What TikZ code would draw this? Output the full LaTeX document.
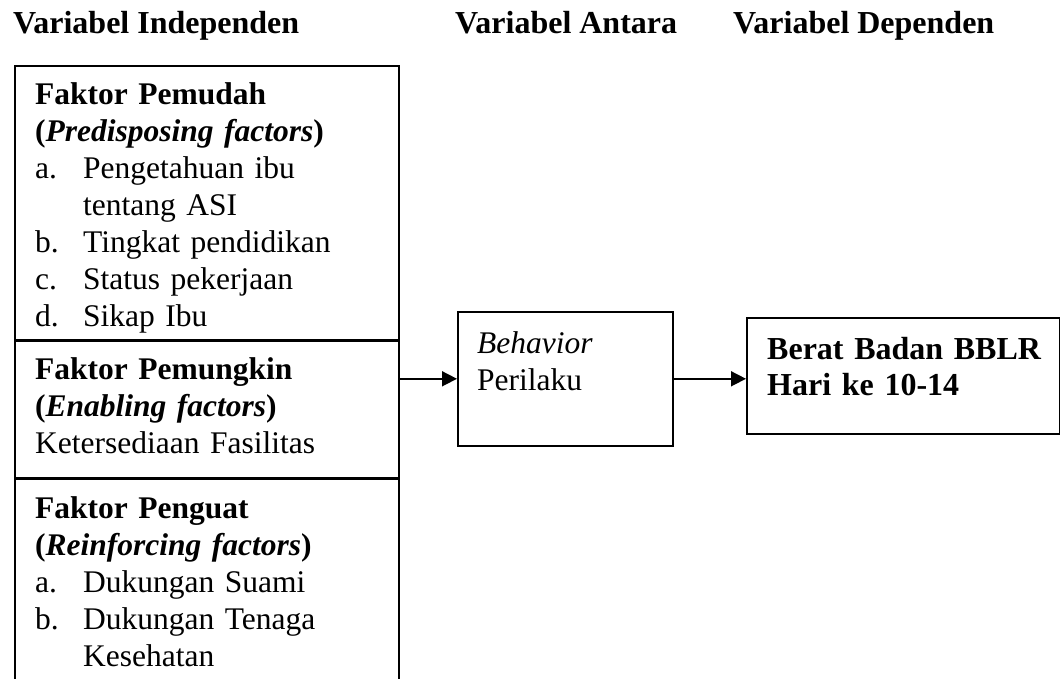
\documentclass[tikz,border=0pt]{standalone}
\usepackage{fontspec}
\setmainfont{Liberation Serif}
\usetikzlibrary{arrows.meta}
\newcommand{\itm}[2]{\makebox[48pt][l]{#1}#2}

\begin{document}
\begin{tikzpicture}[x=1pt,y=-1pt,
        box/.style={draw,line width=1.6pt,anchor=north west,inner sep=0pt},
        txt/.style={anchor=base west,inner sep=0pt,align=left,font=\fontsize{31.5}{37}\selectfont},
        head/.style={txt,font=\fontsize{32}{37}\selectfont\bfseries},
        arr/.style={line width=1.6pt,-{Triangle[length=15pt,width=15pt]}}]
        \clip (0,0) rectangle (1060,679);
        % headings
        \node[head] (hindep) at (13,34) {Variabel Independen};
        \node[head] (hantara) at (455,34) {Variabel Antara};
        \node[head] (hdep) at (733,34) {Variabel Dependen};
        % left column
        \node[box,minimum width=384pt,minimum height=274pt] (pemudah) at (14,65) {};
        \node[box,minimum width=384pt,minimum height=136pt] (pemungkin) at (pemudah.south west) {};
        \node[box,minimum width=384pt,minimum height=215pt] (penguat) at (pemungkin.south west) {};
        \node[txt,text width=350pt] (pemudahtxt) at ([shift={(21,40)}]pemudah.north west)
            {\textbf{Faktor Pemudah}\\
             \textbf{(\textit{Predisposing factors})}\\
             \itm{a.}{Pengetahuan ibu}\\
             \hspace*{48pt}tentang ASI\\
             \itm{b.}{Tingkat pendidikan}\\
             \itm{c.}{Status pekerjaan}\\
             \itm{d.}{Sikap Ibu}};
        \node[txt,text width=350pt] (pemungkintxt) at ([shift={(21,39)}]pemungkin.north west)
            {\textbf{Faktor Pemungkin}\\
             \textbf{(\textit{Enabling factors})}\\
             Ketersediaan Fasilitas};
        \node[txt,text width=350pt] (penguattxt) at ([shift={(21,40)}]penguat.north west)
            {\textbf{Faktor Penguat}\\
             \textbf{(\textit{Reinforcing factors})}\\
             \itm{a.}{Dukungan Suami}\\
             \itm{b.}{Dukungan Tenaga}\\
             \hspace*{48pt}Kesehatan};
        % middle and right
        \node[box,minimum width=215pt,minimum height=134pt] (behavior) at (457,311) {};
        \node[txt,text width=190pt] (behaviortxt) at ([shift={(20,42)}]behavior.north west)
            {\textit{Behavior}\\Perilaku};
        \node[box,minimum width=313pt,minimum height=116pt] (dependen) at (746,317) {};
        \node[txt,text width=290pt,font=\fontsize{32}{36}\selectfont\bfseries] (dependentxt) at ([shift={(21,42)}]dependen.north west)
            {Berat Badan BBLR\\Hari ke 10-14};
        % arrows
        \draw[arr] (behavior.west -| pemungkin.east) -- (behavior.west);
        \draw[arr] (behavior.east) -- (behavior.east -| dependen.west);
\end{tikzpicture}
\end{document}
